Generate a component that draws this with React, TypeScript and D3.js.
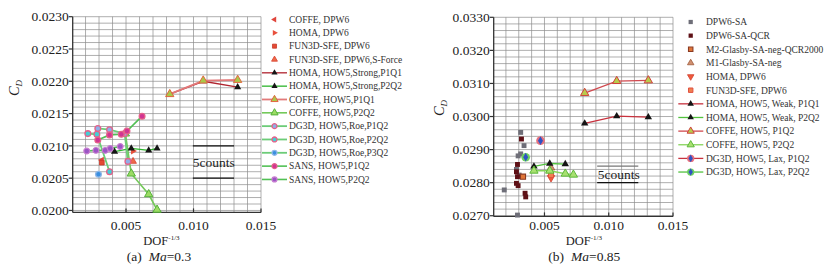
import React from 'react';
import * as d3 from 'd3';

type Pt = [number, number];

// ---------- Left panel (Ma=0.3) data ----------
const L_COFFE_DPW6: Pt[] = [[0.00321, 0.02078]];
const L_HOMA_DPW6: Pt[] = [[0.00552, 0.02092]];
const L_FUN3D_DPW6: Pt[] = [[0.00321, 0.02074]];
const L_FUN3D_SFORCE: Pt[] = [[0.00552, 0.02076]];
const L_HOMA_STRONG_P1Q1: Pt[] = [[0.00824, 0.0218], [0.01072, 0.022], [0.01327, 0.02191]];
const L_HOMA_STRONG_P2Q2: Pt[] = [[0.00415, 0.02091], [0.00539, 0.02096], [0.00668, 0.02093], [0.0073, 0.02096]];
const L_COFFE_P1Q1: Pt[] = [[0.00824, 0.0218], [0.01072, 0.02201], [0.01327, 0.02202]];
const L_COFFE_P2Q2: Pt[] = [[0.00495, 0.02119], [0.00539, 0.02057], [0.00668, 0.02025], [0.0073, 0.02001]];
const L_DG3D_ROE_P1Q2: Pt[] = [[0.00291, 0.02127], [0.00378, 0.02125], [0.0049, 0.02119], [0.00514, 0.02076]];
const L_DG3D_ROE_P2Q2: Pt[] = [[0.00217, 0.02119], [0.00284, 0.02118], [0.00378, 0.0206]];
const L_DG3D_ROE_P3Q2: Pt[] = [[0.00296, 0.02056]];
const L_SANS_P1Q2: Pt[] = [[0.00291, 0.02109], [0.00378, 0.02117], [0.00465, 0.02118], [0.00507, 0.02123], [0.00619, 0.02146]];
const L_SANS_P2Q2: Pt[] = [[0.00209, 0.02092], [0.00277, 0.02093], [0.00346, 0.02093], [0.00383, 0.02096], [0.00457, 0.02099]];

const L_YTICKS = [0.02, 0.0205, 0.021, 0.0215, 0.022, 0.0225, 0.023];
const L_XTICKS = [0.005, 0.01, 0.015];
const L_NAMES = [
  'COFFE, DPW6', 'HOMA, DPW6', 'FUN3D-SFE, DPW6', 'FUN3D-SFE, DPW6,S-Force',
  'HOMA, HOW5,Strong,P1Q1', 'HOMA, HOW5,Strong,P2Q2', 'COFFE, HOW5,P1Q1', 'COFFE, HOW5,P2Q2',
  'DG3D, HOW5,Roe,P1Q2', 'DG3D, HOW5,Roe,P2Q2', 'DG3D, HOW5,Roe,P3Q2', 'SANS, HOW5,P1Q2', 'SANS, HOW5,P2Q2',
];

// ---------- Right panel (Ma=0.85) data ----------
const R_DPW6_SA: Pt[] = [[0.00315, 0.02952], [0.00341, 0.02912], [0.00315, 0.02887], [0.00295, 0.02881], [0.00282, 0.0284], [0.00303, 0.02823], [0.00187, 0.02778], [0.0029, 0.02702]];
const R_DPW6_SA_QCR: Pt[] = [[0.00321, 0.02932], [0.0029, 0.02855], [0.00282, 0.02833], [0.0029, 0.02818], [0.00282, 0.02798], [0.00295, 0.02791], [0.00349, 0.02768], [0.00354, 0.02757]];
const R_M2_GLASBY: Pt[] = [[0.00333, 0.02818]];
const R_M1_GLASBY: Pt[] = [[0.00551, 0.02845]];
const R_HOMA_DPW6: Pt[] = [[0.00551, 0.02815]];
const R_FUN3D_DPW6: Pt[] = [[0.00551, 0.02823]];
const R_HOMA_WEAK_P1Q1: Pt[] = [[0.00813, 0.02979], [0.01062, 0.03001], [0.01308, 0.02998]];
const R_HOMA_WEAK_P2Q2: Pt[] = [[0.00418, 0.02849], [0.00541, 0.02858], [0.00662, 0.02856]];
const R_COFFE_P1Q2: Pt[] = [[0.00813, 0.03071], [0.01062, 0.03107], [0.01308, 0.03109]];
const R_COFFE_P2Q2: Pt[] = [[0.00418, 0.02836], [0.00541, 0.02836], [0.00662, 0.02827], [0.00725, 0.02824]];
const R_DG3D_LAX_P1Q2: Pt[] = [[0.00469, 0.02927]];
const R_DG3D_LAX_P2Q2: Pt[] = [[0.00354, 0.02877]];

const R_YTICKS = [0.027, 0.028, 0.029, 0.03, 0.031, 0.032, 0.033];
const R_XTICKS = [0.005, 0.01, 0.015];
const R_NAMES = [
  'DPW6-SA', 'DPW6-SA-QCR', 'M2-Glasby-SA-neg-QCR2000', 'M1-Glasby-SA-neg', 'HOMA, DPW6', 'FUN3D-SFE, DPW6',
  'HOMA, HOW5, Weak, P1Q1', 'HOMA, HOW5, Weak, P2Q2', 'COFFE, HOW5, P1Q2', 'COFFE, HOW5, P2Q2',
  'DG3D, HOW5, Lax, P1Q2', 'DG3D, HOW5, Lax, P2Q2',
];

const FONT = "'Liberation Serif', 'Times New Roman', serif";

type MarkerStyle = { shape: string; fill: string; stroke?: string; sw?: number; size: number; ring?: string; ringR?: number };
type Series = { pts: Pt[]; line?: string; lw?: number; m: MarkerStyle };

const shapeType: Record<string, any> = {
  tri: d3.symbolTriangle, triL: d3.symbolTriangle, triR: d3.symbolTriangle, triD: d3.symbolTriangle,
  sq: d3.symbolSquare, circ: d3.symbolCircle, diam: d3.symbolDiamond,
};
const shapeRot: Record<string, number> = { tri: 0, triL: -90, triR: 90, triD: 180, sq: 0, circ: 0, diam: 0 };

function Marker({ x, y, m }: { x: number; y: number; m: MarkerStyle }) {
  const d = d3.symbol().type(shapeType[m.shape]).size(m.size)() as string;
  return (
    <g transform={`translate(${x},${y})`}>
      {m.ring && <circle r={m.ringR || 4} fill={m.ring} />}
      <path d={d} transform={`rotate(${shapeRot[m.shape]})`} fill={m.fill} stroke={m.stroke || 'none'} strokeWidth={m.sw || 0.8} />
    </g>
  );
}

const ringCirc = (fill: string): MarkerStyle => ({ shape: 'circ', fill, stroke: '#e4628a', sw: 1.3, size: 26 });

const LEFT_SERIES: Series[] = [
  { pts: L_COFFE_DPW6, m: { shape: 'triL', fill: '#e0453c', size: 20 } },
  { pts: L_HOMA_DPW6, m: { shape: 'triR', fill: '#e8503c', size: 20 } },
  { pts: L_FUN3D_DPW6, m: { shape: 'sq', fill: '#e44a34', stroke: '#c83a2a', size: 22 } },
  { pts: L_FUN3D_SFORCE, m: { shape: 'tri', fill: '#ee6a4a', stroke: '#d84030', size: 20 } },
  { pts: L_HOMA_STRONG_P1Q1, line: '#b0232e', lw: 1.3, m: { shape: 'tri', fill: '#151515', size: 22 } },
  { pts: L_HOMA_STRONG_P2Q2, line: '#2cb52c', lw: 1.3, m: { shape: 'tri', fill: '#151515', size: 22 } },
  { pts: L_COFFE_P1Q1, line: '#e27a7a', lw: 1.8, m: { shape: 'tri', fill: '#a9c94a', stroke: '#e2663e', sw: 1, size: 30 } },
  { pts: L_COFFE_P2Q2, line: '#74c95a', lw: 1.6, m: { shape: 'tri', fill: '#9cdc64', stroke: '#55b03a', sw: 1, size: 30 } },
  { pts: L_DG3D_ROE_P1Q2, line: '#6ccc78', lw: 1.8, m: ringCirc('#8fb0e6') },
  { pts: L_DG3D_ROE_P2Q2, line: '#6ccc78', lw: 1.8, m: ringCirc('#44cfd6') },
  { pts: L_DG3D_ROE_P3Q2, line: '#6ccc78', lw: 1.8, m: { shape: 'circ', fill: '#3a8fe0', stroke: '#8fb8e8', sw: 1.3, size: 26 } },
  { pts: L_SANS_P1Q2, line: '#52c055', lw: 1.6, m: ringCirc('#d13493') },
  { pts: L_SANS_P2Q2, line: '#52c055', lw: 1.6, m: { shape: 'circ', fill: '#9a55c4', stroke: '#c77ad0', sw: 1.2, size: 26 } },
];

const RIGHT_SERIES: Series[] = [
  { pts: R_DPW6_SA, m: { shape: 'sq', fill: '#6e6e78', size: 24 } },
  { pts: R_DPW6_SA_QCR, m: { shape: 'sq', fill: '#5e1016', size: 24 } },
  { pts: R_M2_GLASBY, m: { shape: 'sq', fill: '#e07638', stroke: '#8a3a22', sw: 1.1, size: 26 } },
  { pts: R_M1_GLASBY, m: { shape: 'tri', fill: '#d09070', stroke: '#a05a3a', size: 24 } },
  { pts: R_HOMA_DPW6, m: { shape: 'triD', fill: '#f05a3a', stroke: '#d04030', size: 24 } },
  { pts: R_FUN3D_DPW6, m: { shape: 'sq', fill: '#f08050', stroke: '#e05040', sw: 1, size: 26 } },
  { pts: R_HOMA_WEAK_P1Q1, line: '#c8323e', lw: 1.3, m: { shape: 'tri', fill: '#151515', size: 24 } },
  { pts: R_HOMA_WEAK_P2Q2, line: '#52c23e', lw: 1.3, m: { shape: 'tri', fill: '#151515', size: 24 } },
  { pts: R_COFFE_P1Q2, line: '#d04a50', lw: 1.3, m: { shape: 'tri', fill: '#b8cc4c', stroke: '#d0403a', sw: 1, size: 30 } },
  { pts: R_COFFE_P2Q2, line: '#86d45a', lw: 1.3, m: { shape: 'tri', fill: '#a8e070', stroke: '#5cb83a', sw: 1, size: 30 } },
  { pts: R_DG3D_LAX_P1Q2, line: '#c8323e', lw: 1.3, m: { shape: 'diam', fill: '#2f52c4', size: 22, ring: '#e6707c', ringR: 4.3 } },
  { pts: R_DG3D_LAX_P2Q2, line: '#52c23e', lw: 1.3, m: { shape: 'diam', fill: '#2f52c4', size: 22, ring: '#6cd060', ringR: 4.3 } },
];

type PanelCfg = {
  xDomain: [number, number]; xRange: [number, number];
  yDomain: [number, number]; yRange: [number, number];
  yGrid: number[]; xGrid: number[];
  yTicks: number[]; xTicks: number[];
  series: Series[]; names: string[];
  leg: { lx0: number; lx1: number; mx: number; tx: number; y0: number; dy: number };
  counts: { x0: number; x1: number; y1: number; y2: number; tx: number; ty: number; topColor: string };
  cdPos: [number, number]; dofX: number; capX: number; cap: string; ma: string;
};

function Panel({ c }: { c: PanelCfg }) {
  const x = d3.scaleLinear().domain(c.xDomain).range(c.xRange);
  const y = d3.scaleLinear().domain(c.yDomain).range(c.yRange);
  const line = d3.line<Pt>().x(d => x(d[0])).y(d => y(d[1]));
  const [xl, xr] = c.xRange;
  const [yb, yt] = c.yRange;
  return (
    <g fontFamily={FONT} fill="#222">
      {c.yGrid.map((v, i) => (
        <line key={'gy' + i} x1={xl} x2={xr} y1={y(v)} y2={y(v)} stroke="#8c8c8c" strokeWidth={0.7} />
      ))}
      {c.xGrid.map((v, i) => (
        <line key={'gx' + i} x1={x(v)} x2={x(v)} y1={yb} y2={yt} stroke="#8c8c8c" strokeWidth={0.7} />
      ))}
      <line x1={xl} x2={xl} y1={yb} y2={yt} stroke="#333" strokeWidth={1.3} />
      <line x1={xl} x2={xr} y1={yb} y2={yb} stroke="#333" strokeWidth={1.3} />
      {c.yTicks.map((v, i) => (
        <g key={'yt' + i}>
          <line x1={xl - 4} x2={xl} y1={y(v)} y2={y(v)} stroke="#333" strokeWidth={1.2} />
          <text x={xl - 4} y={y(v)} dy="0.35em" textAnchor="end" fontSize={13.5}>{d3.format('.4f')(v)}</text>
        </g>
      ))}
      {c.xTicks.map((v, i) => (
        <g key={'xt' + i}>
          <line x1={x(v)} x2={x(v)} y1={yb} y2={yb - 4} stroke="#333" strokeWidth={1.2} />
          <text x={x(v)} y={230} textAnchor="middle" fontSize={13.5}>{d3.format('.3f')(v)}</text>
        </g>
      ))}
      <text x={c.dofX} y={245} fontSize={12.5}>DOF<tspan fontSize={7} dy={-5}>-1/3</tspan></text>
      <text x={c.capX} y={261} fontSize={13.5}>{c.cap}<tspan dx={7} fontStyle="italic">Ma</tspan>{c.ma}</text>
      <text transform={`translate(${c.cdPos[0]},${c.cdPos[1]}) rotate(-90)`} textAnchor="middle" fontSize={14.5} fontStyle="italic">
        C<tspan fontSize={9} dy={3}>D</tspan>
      </text>
      {c.series.map((s, i) =>
        s.line && s.pts.length > 1 ? (
          <path key={'l' + i} d={line(s.pts) as string} fill="none" stroke={s.line} strokeWidth={s.lw || 1.3} />
        ) : null
      )}
      {c.series.map((s, i) => (
        <g key={'m' + i}>
          {s.pts.map((p, j) => <Marker key={j} x={x(p[0])} y={y(p[1])} m={s.m} />)}
        </g>
      ))}
      <line x1={x(c.counts.x0)} x2={x(c.counts.x1)} y1={y(c.counts.y1)} y2={y(c.counts.y1)} stroke={c.counts.topColor} strokeWidth={1.4} />
      <line x1={x(c.counts.x0)} x2={x(c.counts.x1)} y1={y(c.counts.y2)} y2={y(c.counts.y2)} stroke="#111" strokeWidth={1.3} />
      <text x={c.counts.tx} y={c.counts.ty} fontSize={13.5}>5counts</text>
      {c.series.map((s, i) => {
        const ry = c.leg.y0 + i * c.leg.dy;
        return (
          <g key={'lg' + i}>
            {s.line && <line x1={c.leg.lx0} x2={c.leg.lx1} y1={ry} y2={ry} stroke={s.line} strokeWidth={s.lw || 1.3} />}
            <Marker x={c.leg.mx} y={ry} m={{ ...s.m, size: s.m.size * 0.75, ringR: s.m.ringR ? s.m.ringR * 0.85 : undefined }} />
            <text x={c.leg.tx} y={ry} dy="0.35em" fontSize={9.5} fill="#333">{c.names[i]}</text>
          </g>
        );
      })}
    </g>
  );
}

const LEFT: PanelCfg = {
  xDomain: [0.00105, 0.015], xRange: [72.7, 261],
  yDomain: [0.01997, 0.023], yRange: [212.4, 16.7],
  yGrid: d3.range(200, 231).map(i => i / 10000),
  xGrid: d3.range(2, 16).map(i => i / 1000),
  yTicks: L_YTICKS, xTicks: L_XTICKS,
  series: LEFT_SERIES, names: L_NAMES,
  leg: { lx0: 262, lx1: 287, mx: 274.5, tx: 289, y0: 19.5, dy: 13.33 },
  counts: { x0: 0.00995, x1: 0.013, y1: 0.021, y2: 0.0205, tx: 192.7, ty: 166.5, topColor: '#111' },
  cdPos: [19, 88], dofX: 143.3, capX: 126.7, cap: '(a)', ma: '=0.3',
};

const RIGHT: PanelCfg = {
  xDomain: [0.00105, 0.015], xRange: [493.7, 673],
  yDomain: [0.02698, 0.033], yRange: [216.4, 17.3],
  yGrid: d3.range(270, 331, 2).map(i => i / 10000),
  xGrid: d3.range(2, 16).map(i => i / 1000),
  yTicks: R_YTICKS, xTicks: R_XTICKS,
  series: RIGHT_SERIES, names: R_NAMES,
  leg: { lx0: 678.3, lx1: 703.3, mx: 690.7, tx: 706, y0: 22, dy: 13.64 },
  counts: { x0: 0.0091, x1: 0.0123, y1: 0.0285, y2: 0.028, tx: 597.7, ty: 178.5, topColor: '#777' },
  cdPos: [444, 108], dofX: 565.7, capX: 548.3, cap: '(b)', ma: '=0.85',
};

export default function App() {
  return (
    <svg width={836} height={271} style={{ position: 'absolute', left: 0, top: 0, background: '#fff' }}>
      <rect width={836} height={271} fill="#fff" />
      <Panel c={LEFT} />
      <Panel c={RIGHT} />
    </svg>
  );
}
